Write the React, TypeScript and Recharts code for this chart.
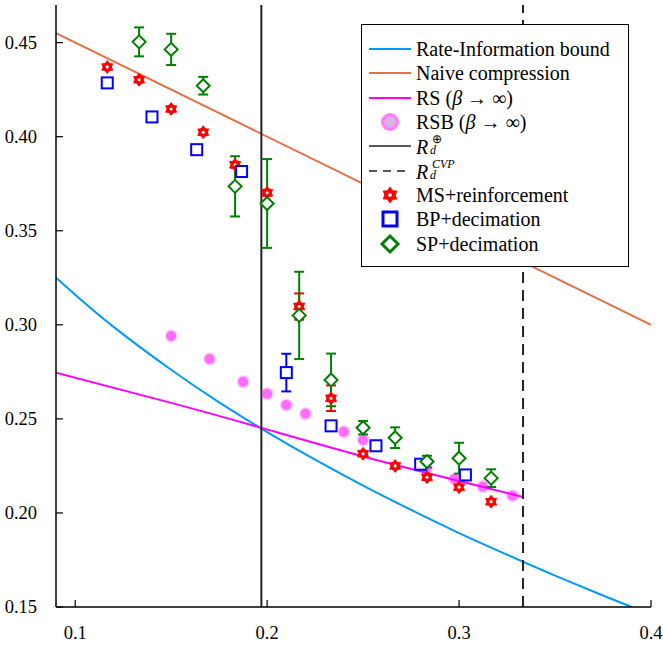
import { ComposedChart, Line, Scatter, XAxis, YAxis, ErrorBar, ReferenceLine, Legend } from 'recharts'

// Rate-Information bound (curve)
const rateX = [0.09, 0.1, 0.12, 0.15, 0.175, 0.2, 0.225, 0.25, 0.275, 0.3, 0.325, 0.35, 0.375, 0.39]
const rateY = [0.325, 0.316, 0.2989, 0.2761, 0.2588, 0.243, 0.2283, 0.2145, 0.2016, 0.1893, 0.1778, 0.1667, 0.1561, 0.15]
// Naive compression
const naiveX = [0.09, 0.4]
const naiveY = [0.455, 0.3]
// RS (beta -> inf)
const rsX = [0.09, 0.15, 0.197, 0.25, 0.3, 0.3333]
const rsY = [0.2745, 0.2585, 0.2452, 0.23, 0.217, 0.2085]
// RSB (beta -> inf)
const rsbX = [0.15, 0.17, 0.1875, 0.2, 0.21, 0.22, 0.24, 0.25, 0.283, 0.2976, 0.3124, 0.3278]
const rsbY = [0.2941, 0.2818, 0.2697, 0.2633, 0.2574, 0.2527, 0.2431, 0.2388, 0.2237, 0.2181, 0.214, 0.2092]
// MS+reinforcement
const msX = [0.1167, 0.1333, 0.15, 0.1667, 0.1833, 0.2, 0.2167, 0.2333, 0.25, 0.2667, 0.2833, 0.3, 0.3167]
const msY = [0.4371, 0.4303, 0.4147, 0.4023, 0.3851, 0.3702, 0.3097, 0.261, 0.2314, 0.225, 0.219, 0.2137, 0.206]
const msErr = [0, 0, 0, 0, 0.0015, 0.0015, 0.007, 0.0068, 0, 0, 0, 0, 0]
// BP+decimation
const bpX = [0.1167, 0.14, 0.1633, 0.1867, 0.21, 0.2333, 0.2567, 0.28, 0.3033]
const bpY = [0.4286, 0.4105, 0.3931, 0.3815, 0.2746, 0.2463, 0.2357, 0.2259, 0.2202]
const bpErr = [0, 0, 0, 0, 0.01, 0, 0, 0, 0]
// SP+decimation
const spX = [0.1333, 0.15, 0.1667, 0.1833, 0.2, 0.2167, 0.2333, 0.25, 0.2667, 0.2833, 0.3, 0.3167]
const spY = [0.4504, 0.4464, 0.4271, 0.3736, 0.3645, 0.305, 0.2707, 0.2453, 0.24, 0.2273, 0.2291, 0.2185]
const spErr = [0.0077, 0.0083, 0.0047, 0.016, 0.0236, 0.0232, 0.014, 0.0036, 0.0055, 0.0031, 0.0082, 0.0047]

const rdPlus = 0.197
const rdCvp = 1 / 3

const xTicks = [0.1, 0.2, 0.3, 0.4]
const yTicks = [0.15, 0.2, 0.25, 0.3, 0.35, 0.4, 0.45]

const zip = (xs: number[], ys: number[], errs?: number[]) =>
  xs.map((x, i) => ({ x, y: ys[i], err: errs ? errs[i] : 0 }))

const FONT = '"Liberation Serif", serif'
const BLUE = '#009af9'
const ORANGE = '#e26f46'
const MAGENTA = '#ff00ff'
const RED = '#ff0000'
const SQ = '#0000ff'
const GREEN = '#008000'

const starPoints = (cx: number, cy: number, r: number) => {
  const pts: string[] = []
  for (let i = 0; i < 12; i++) {
    const a = (Math.PI / 6) * i - Math.PI / 2
    const rr = i % 2 === 0 ? r : r * 0.66
    pts.push(`${cx + rr * Math.cos(a)},${cy + rr * Math.sin(a)}`)
  }
  return pts.join(' ')
}

const Star = ({ cx, cy, r = 7 }: any) => (
  <g>
    <polygon points={starPoints(cx, cy, r)} fill={RED} />
    <circle cx={cx} cy={cy} r={r * 0.22} fill="#fff" />
  </g>
)

const Square = ({ cx, cy, s = 11, w = 2 }: any) => (
  <rect x={cx - s / 2} y={cy - s / 2} width={s} height={s} fill="#fff" stroke={SQ} strokeWidth={w} />
)

const Diamond = ({ cx, cy, s = 6.5, w = 2 }: any) => (
  <polygon
    points={`${cx},${cy - s} ${cx + s},${cy} ${cx},${cy + s} ${cx - s},${cy}`}
    fill="#fff"
    stroke={GREEN}
    strokeWidth={w}
  />
)

const Blob = ({ cx, cy, r = 5 }: any) => (
  <g>
    <circle cx={cx} cy={cy} r={r + 1.5} fill={MAGENTA} fillOpacity={0.22} />
    <circle cx={cx} cy={cy} r={r} fill={MAGENTA} fillOpacity={0.45} />
  </g>
)

const XTick = ({ x, y, payload }: any) => (
  <g>
    <line x1={x} y1={y} x2={x} y2={y - 7} stroke="#000" strokeWidth={1.2} />
    <text x={x} y={y + 32} textAnchor="middle" fontFamily={FONT} fontSize={18.5} fill="#000">
      {payload.value.toFixed(1)}
    </text>
  </g>
)

const YTick = ({ x, y, payload }: any) => (
  <g>
    <line x1={x} y1={y} x2={x + 7} y2={y} stroke="#000" strokeWidth={1.2} />
    <text x={x - 19} y={y + 6} textAnchor="end" fontFamily={FONT} fontSize={18.5} fill="#000">
      {payload.value.toFixed(2)}
    </text>
  </g>
)

const Sym = ({ children }: any) => (
  <svg width={44} height={22} style={{ flex: 'none' }}>
    {children}
  </svg>
)

const row: React.CSSProperties = { display: 'flex', alignItems: 'center', height: 24.3 }

const Rd = ({ sup }: { sup: React.ReactNode }) => (
  <span style={{ position: 'relative', display: 'inline-block', width: 60, height: 24, marginLeft: 4 }}>
    <i style={{ position: 'absolute', left: 0, top: 3 }}>R</i>
    <span style={{ position: 'absolute', left: 16, top: 0, fontSize: 12, lineHeight: '10px' }}>{sup}</span>
    <i style={{ position: 'absolute', left: 14, top: 11, fontSize: 12, lineHeight: '10px' }}>d</i>
  </span>
)

const LegendBox = () => (
  <div
    style={{
      border: '1.5px solid #000',
      background: '#fff',
      boxSizing: 'border-box',
      width: 268,
      height: 243,
      padding: '12px 0 0 6px',
      fontFamily: FONT,
      fontSize: 20,
      color: '#000',
      lineHeight: 1,
    }}
  >
    <div style={row}>
      <Sym><line x1={1} y1={11} x2={43} y2={11} stroke={BLUE} strokeWidth={2} /></Sym>
      <span style={{ marginLeft: 4 }}>Rate-Information bound</span>
    </div>
    <div style={row}>
      <Sym><line x1={1} y1={11} x2={43} y2={11} stroke={ORANGE} strokeWidth={2} /></Sym>
      <span style={{ marginLeft: 4 }}>Naive compression</span>
    </div>
    <div style={row}>
      <Sym><line x1={1} y1={11} x2={43} y2={11} stroke={MAGENTA} strokeWidth={2} /></Sym>
      <span style={{ marginLeft: 4 }}>RS (<i>β</i> → ∞)</span>
    </div>
    <div style={row}>
      <Sym>
        <circle cx={22} cy={11} r={9} fill={MAGENTA} fillOpacity={0.5} />
        <circle cx={22} cy={11} r={5.5} fill="#d8b4e2" />
      </Sym>
      <span style={{ marginLeft: 4 }}>RSB (<i>β</i> → ∞)</span>
    </div>
    <div style={row}>
      <Sym><line x1={1} y1={11} x2={43} y2={11} stroke="#222" strokeWidth={1.5} /></Sym>
      <Rd sup="⊕" />
    </div>
    <div style={row}>
      <Sym><line x1={1} y1={11} x2={43} y2={11} stroke="#222" strokeWidth={1.5} strokeDasharray="8 6" /></Sym>
      <Rd sup={<i>CVP</i>} />
    </div>
    <div style={row}>
      <Sym><Star cx={22} cy={11} r={8.5} /></Sym>
      <span style={{ marginLeft: 4 }}>MS+reinforcement</span>
    </div>
    <div style={row}>
      <Sym><Square cx={22} cy={11} s={14} w={3} /></Sym>
      <span style={{ marginLeft: 4 }}>BP+decimation</span>
    </div>
    <div style={row}>
      <Sym><Diamond cx={22} cy={11} s={8} w={3} /></Sym>
      <span style={{ marginLeft: 4 }}>SP+decimation</span>
    </div>
  </div>
)

export default function App() {
  return (
    <div style={{ position: 'absolute', left: 0, top: 0, background: '#fff' }}>
      <ComposedChart width={663} height={645} margin={{ top: 5, right: 12, left: 0, bottom: 0 }}>
        <XAxis
          dataKey="x"
          type="number"
          domain={[0.09, 0.4]}
          ticks={xTicks}
          allowDataOverflow
          height={38}
          tickSize={0}
          tickMargin={0}
          tick={<XTick />}
          axisLine={{ stroke: '#000', strokeWidth: 1.5 }}
          tickLine={false}
        />
        <YAxis
          dataKey="y"
          type="number"
          domain={[0.15, 0.47]}
          ticks={yTicks}
          allowDataOverflow
          width={56}
          tickSize={0}
          tickMargin={0}
          tick={<YTick />}
          axisLine={{ stroke: '#000', strokeWidth: 1.5 }}
          tickLine={false}
        />
        <Legend
          layout="vertical"
          align="center"
          verticalAlign="middle"
          wrapperStyle={{ left: 361, top: 24, width: 268, height: 243 }}
          content={() => <LegendBox />}
        />
        <Line data={zip(rateX, rateY)} dataKey="y" stroke={BLUE} strokeWidth={2} dot={false} isAnimationActive={false} type="natural" />
        <Line data={zip(naiveX, naiveY)} dataKey="y" stroke={ORANGE} strokeWidth={2} dot={false} isAnimationActive={false} type="linear" />
        <Line data={zip(rsX, rsY)} dataKey="y" stroke={MAGENTA} strokeWidth={2} dot={false} isAnimationActive={false} type="natural" />
        <Scatter data={zip(rsbX, rsbY)} dataKey="y" shape={<Blob />} isAnimationActive={false} />
        <ReferenceLine x={rdPlus} stroke="#222" strokeWidth={2} />
        <ReferenceLine x={rdCvp} stroke="#222" strokeWidth={2} strokeDasharray="11 7" />
        <Scatter data={zip(msX, msY, msErr)} dataKey="y" shape={<Star />} isAnimationActive={false}>
          <ErrorBar dataKey="err" direction="y" width={5} stroke={RED} strokeWidth={2} />
        </Scatter>
        <Scatter data={zip(bpX, bpY, bpErr)} dataKey="y" shape={<Square />} isAnimationActive={false}>
          <ErrorBar dataKey="err" direction="y" width={5} stroke={SQ} strokeWidth={2} />
        </Scatter>
        <Scatter data={zip(spX, spY, spErr)} dataKey="y" shape={<Diamond />} isAnimationActive={false}>
          <ErrorBar dataKey="err" direction="y" width={5} stroke={GREEN} strokeWidth={2} />
        </Scatter>
      </ComposedChart>
    </div>
  )
}
